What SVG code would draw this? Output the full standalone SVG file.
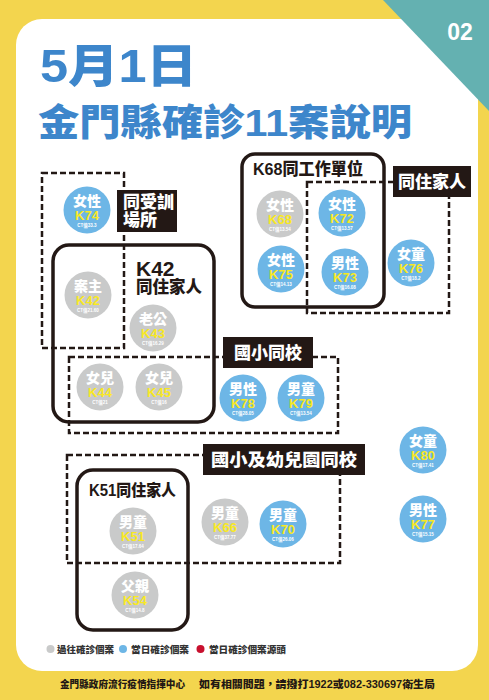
<svg xmlns="http://www.w3.org/2000/svg" width="489" height="700" viewBox="0 0 489 700">
<style>
text{font-family:"Liberation Sans","Noto Sans CJK TC",sans-serif;font-weight:bold}
.dash{fill:none;stroke:#231815;stroke-width:2.5;stroke-dasharray:6 3}
.solid{fill:none;stroke:#231815;stroke-width:3.5}
.tag{fill:#231815}
.tagt{fill:#fff;font-size:17px;font-weight:900}
.hdr{fill:#231815;font-weight:900}
.past{fill:#c9caca}
.today{fill:#6db6e6}
.lbl{fill:#fff;font-size:14px;text-anchor:middle;font-weight:900}
.code{fill:#f8e824;font-size:13px;text-anchor:middle}
.ct{fill:#fff;font-size:4.5px;text-anchor:middle}
.leg{fill:#333;font-size:9.5px;font-weight:900}
.foot{fill:#231815;font-size:10px;font-weight:900}
.title{fill:#3d86cb;font-weight:900}
</style>
<rect width="489" height="700" fill="#f3d54e"/>
<rect x="16" y="19" width="462" height="652" rx="26" fill="#fff"/>
<polygon points="383,0 489,0 489,111" fill="#64b1b1"/>
<text x="460" y="40" fill="#fff" font-size="23" text-anchor="middle">02</text>
<text class="title" x="40" y="82" font-size="46" textLength="157" lengthAdjust="spacingAndGlyphs">5月1日</text>
<text class="title" x="38" y="136" font-size="37" textLength="374" lengthAdjust="spacingAndGlyphs">金門縣確診11案說明</text>

<g id="connectors">
<rect class="dash" x="42" y="173" width="82" height="175"/>
<rect class="solid" x="53" y="245" width="161" height="177" rx="16"/>
<rect class="dash" x="69" y="357" width="269" height="76"/>
<rect class="solid" x="242" y="154" width="142" height="153" rx="13"/>
<rect class="dash" x="307" y="182" width="142" height="131"/>
<rect class="dash" x="67" y="455" width="273" height="108"/>
<rect class="solid" x="77" y="470" width="111" height="160" rx="16"/>
</g>

<g id="tag-training">
<rect class="tag" x="117" y="190" width="60" height="42"/>
<text class="tagt" x="123" y="208" font-size="14">同受訓</text>
<text class="tagt" x="123" y="226" font-size="14">場所</text>
</g>
<g id="tag-k42">
<text class="hdr" x="136" y="276" font-size="21">K42</text>
<text class="hdr" x="136" y="293" font-size="16.5">同住家人</text>
</g>
<g id="tag-school">
<rect class="tag" x="223" y="337" width="90" height="31"/>
<text class="tagt" x="268" y="359" text-anchor="middle" font-size="18">國小同校</text>
</g>
<g id="tag-k68">
<text class="hdr" x="253" y="175" font-size="16.5" textLength="110" lengthAdjust="spacingAndGlyphs">K68同工作單位</text>
</g>
<g id="tag-family">
<rect class="tag" x="393" y="166" width="78" height="31"/>
<text class="tagt" x="432" y="188" text-anchor="middle" font-size="17">同住家人</text>
</g>
<g id="tag-kinder">
<rect class="tag" x="203" y="444" width="162" height="31"/>
<text class="tagt" x="284" y="466" text-anchor="middle" font-size="18" textLength="146" lengthAdjust="spacingAndGlyphs">國小及幼兒園同校</text>
</g>
<g id="tag-k51">
<text class="hdr" x="89" y="496" font-size="16" textLength="87" lengthAdjust="spacingAndGlyphs">K51同住家人</text>
</g>

<g id="n-K74"><circle class="today" cx="87" cy="210" r="23.5"/><text class="lbl" x="87" y="206">女性</text><text class="code" x="87" y="220">K74</text><text class="ct" x="87" y="226.5">CT值33.3</text></g>
<g id="n-K42"><circle class="past" cx="88" cy="295" r="23.5"/><text class="lbl" x="88" y="291">案主</text><text class="code" x="88" y="305">K42</text><text class="ct" x="88" y="311.5">CT值21.60</text></g>
<g id="n-K43"><circle class="past" cx="153" cy="328" r="23.5"/><text class="lbl" x="153" y="324">老公</text><text class="code" x="153" y="338">K43</text><text class="ct" x="153" y="344.5">CT值16.29</text></g>
<g id="n-K44"><circle class="past" cx="100" cy="387" r="23.5"/><text class="lbl" x="100" y="383">女兒</text><text class="code" x="100" y="397">K44</text><text class="ct" x="100" y="403.5">CT值21</text></g>
<g id="n-K45"><circle class="past" cx="159" cy="387" r="23.5"/><text class="lbl" x="159" y="383">女兒</text><text class="code" x="159" y="397">K45</text><text class="ct" x="159" y="403.5">CT值16</text></g>
<g id="n-K68"><circle class="past" cx="280" cy="214" r="23.5"/><text class="lbl" x="280" y="210">女性</text><text class="code" x="280" y="224">K68</text><text class="ct" x="280" y="230.5">CT值13.54</text></g>
<g id="n-K72"><circle class="today" cx="342" cy="213" r="23.5"/><text class="lbl" x="342" y="209">女性</text><text class="code" x="342" y="223">K72</text><text class="ct" x="342" y="229.5">CT值13.57</text></g>
<g id="n-K75"><circle class="today" cx="281" cy="269" r="23.5"/><text class="lbl" x="281" y="265">女性</text><text class="code" x="281" y="279">K75</text><text class="ct" x="281" y="285.5">CT值14.13</text></g>
<g id="n-K73"><circle class="today" cx="345" cy="272" r="23.5"/><text class="lbl" x="345" y="268">男性</text><text class="code" x="345" y="282">K73</text><text class="ct" x="345" y="288.5">CT值16.08</text></g>
<g id="n-K76"><circle class="today" cx="411" cy="263" r="23.5"/><text class="lbl" x="411" y="259">女童</text><text class="code" x="411" y="273">K76</text><text class="ct" x="411" y="279.5">CT值18.2</text></g>
<g id="n-K78"><circle class="today" cx="243" cy="398" r="23.5"/><text class="lbl" x="243" y="394">男性</text><text class="code" x="243" y="408">K78</text><text class="ct" x="243" y="414.5">CT值28.05</text></g>
<g id="n-K79"><circle class="today" cx="301" cy="398" r="23.5"/><text class="lbl" x="301" y="394">男童</text><text class="code" x="301" y="408">K79</text><text class="ct" x="301" y="414.5">CT值13.54</text></g>
<g id="n-K80"><circle class="today" cx="423" cy="450" r="23.5"/><text class="lbl" x="423" y="446">女童</text><text class="code" x="423" y="460">K80</text><text class="ct" x="423" y="466.5">CT值17.41</text></g>
<g id="n-K77"><circle class="today" cx="423" cy="519" r="23.5"/><text class="lbl" x="423" y="515">男性</text><text class="code" x="423" y="529">K77</text><text class="ct" x="423" y="535.5">CT值15.15</text></g>
<g id="n-K51"><circle class="past" cx="133" cy="531" r="23.5"/><text class="lbl" x="133" y="527">男童</text><text class="code" x="133" y="541">K51</text><text class="ct" x="133" y="547.5">CT值17.64</text></g>
<g id="n-K66"><circle class="past" cx="225" cy="522" r="23.5"/><text class="lbl" x="225" y="518">男童</text><text class="code" x="225" y="532">K66</text><text class="ct" x="225" y="538.5">CT值37.77</text></g>
<g id="n-K70"><circle class="today" cx="283" cy="524" r="23.5"/><text class="lbl" x="283" y="520">男童</text><text class="code" x="283" y="534">K70</text><text class="ct" x="283" y="540.5">CT值26.06</text></g>
<g id="n-K54"><circle class="past" cx="135" cy="595" r="23.5"/><text class="lbl" x="135" y="591">父親</text><text class="code" x="135" y="605">K54</text><text class="ct" x="135" y="611.5">CT值14.8</text></g>

<g id="legend">
<circle cx="50.5" cy="649" r="4" fill="#c9caca"/>
<text class="leg" x="57" y="652.5" textLength="57" lengthAdjust="spacingAndGlyphs">過往確診個案</text>
<circle cx="123" cy="649" r="4" fill="#6db6e6"/>
<text class="leg" x="131" y="652.5" textLength="58" lengthAdjust="spacingAndGlyphs">當日確診個案</text>
<circle cx="200.5" cy="649" r="4" fill="#c8102e"/>
<text class="leg" x="209" y="652.5" textLength="77" lengthAdjust="spacingAndGlyphs">當日確診個案源頭</text>
</g>
<g id="footer">
<text class="foot" x="60" y="688" textLength="125" lengthAdjust="spacingAndGlyphs">金門縣政府流行疫情指揮中心</text>
<text class="foot" x="199" y="688" textLength="236" lengthAdjust="spacingAndGlyphs">如有相關問題，請撥打1922或082-330697衛生局</text>
</g>
</svg>
